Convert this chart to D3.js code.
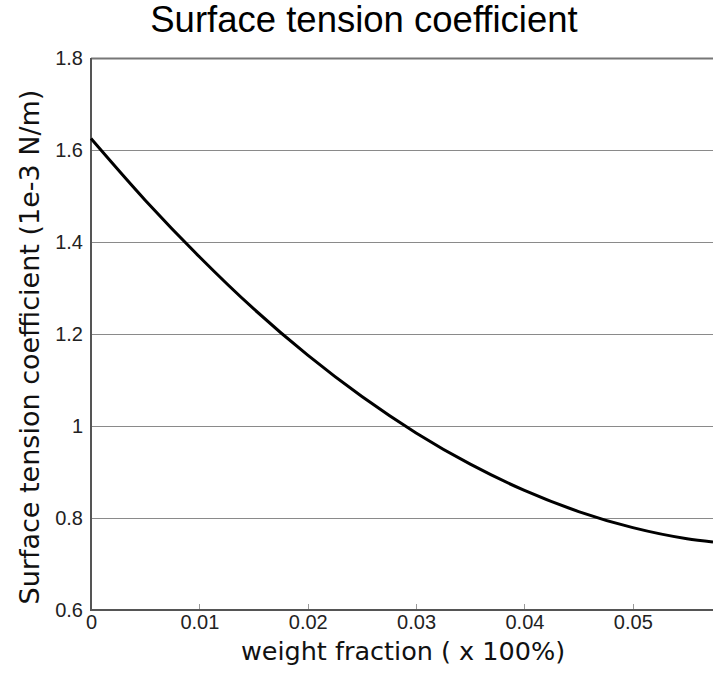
<!DOCTYPE html>
<html>
<head>
<meta charset="utf-8">
<script src="https://cdn.jsdelivr.net/npm/d3@7"></script>
<style>
  body { margin: 0; background: #fff; }
  svg { display: block; }
</style>
</head>
<body>
<svg id="chart" width="713" height="677"></svg>
<script>
// values
let weightFraction = [0, 0.005, 0.01, 0.015, 0.02, 0.025, 0.03, 0.035, 0.04, 0.045, 0.05, 0.055, 0.0574];
let tension = [1.625, 1.491, 1.368, 1.255, 1.154, 1.064, 0.985, 0.917, 0.86, 0.814, 0.779, 0.755, 0.748];
let xTicks = [0, 0.01, 0.02, 0.03, 0.04, 0.05];
let yTicks = [0.6, 0.8, 1, 1.2, 1.4, 1.6, 1.8];

let svg = d3.select("#chart");
let plotLeft = 91, plotRight = 713, plotTop = 58, plotBottom = 610;

let x = d3.scaleLinear().domain([0, 0.0574]).range([plotLeft, plotRight]);
let y = d3.scaleLinear().domain([0.6, 1.8]).range([plotBottom, plotTop]);

let data = weightFraction.map(function(d, i) { return {w: d, t: tension[i]}; });

// grid lines
svg.append("g")
    .selectAll("line")
    .data(yTicks.slice(1))
    .enter()
    .append("line")
    .attr("x1", plotLeft).attr("x2", plotRight)
    .attr("y1", function(d) { return Math.round(y(d)) + 0.5; })
    .attr("y2", function(d) { return Math.round(y(d)) + 0.5; })
    .style("stroke", "#8a8a8a")
    .style("stroke-width", 1.2);

// x axis
let xAxis = d3.axisBottom(x).tickValues(xTicks).tickSize(0).tickPadding(5)
    .tickFormat(function(d) { return d === 0 ? "0" : d3.format(".2f")(d); });
let gx = svg.append("g").attr("transform", "translate(0," + plotBottom + ")").call(xAxis);
gx.select(".domain").remove();
gx.selectAll("text")
    .style("font-family", "Liberation Sans, Arial, sans-serif")
    .style("font-size", "20px")
    .style("fill", "#222");

// small inward ticks
svg.append("g")
    .selectAll("line")
    .data(xTicks.slice(1))
    .enter()
    .append("line")
    .attr("x1", function(d) { return Math.round(x(d)) + 0.5; })
    .attr("x2", function(d) { return Math.round(x(d)) + 0.5; })
    .attr("y1", plotBottom).attr("y2", plotBottom - 6)
    .style("stroke", "#999")
    .style("stroke-width", 1);

// y axis labels
let yAxis = d3.axisLeft(y).tickValues(yTicks).tickSize(0).tickPadding(8)
    .tickFormat(function(d) { return d === 1 ? "1" : d3.format(".1f")(d); });
let gy = svg.append("g").attr("transform", "translate(" + plotLeft + ",0)").call(yAxis);
gy.select(".domain").remove();
gy.selectAll("text")
    .style("font-family", "Liberation Sans, Arial, sans-serif")
    .style("font-size", "20px")
    .style("fill", "#222");

// frame
svg.append("line").attr("x1", plotLeft).attr("x2", plotRight).attr("y1", plotTop + 0.5).attr("y2", plotTop + 0.5)
    .style("stroke", "#777").style("stroke-width", 2);
svg.append("line").attr("x1", plotLeft).attr("x2", plotRight).attr("y1", plotBottom).attr("y2", plotBottom)
    .style("stroke", "#555").style("stroke-width", 2);
svg.append("line").attr("x1", plotLeft).attr("x2", plotLeft).attr("y1", plotTop).attr("y2", plotBottom + 1)
    .style("stroke", "#555").style("stroke-width", 2);

// the curve
let line = d3.line()
    .x(function(d) { return x(d.w); })
    .y(function(d) { return y(d.t); })
    .curve(d3.curveMonotoneX);

svg.append("path")
    .datum(data)
    .attr("d", line)
    .style("fill", "none")
    .style("stroke", "#000")
    .style("stroke-width", 3);

// titles
svg.append("text")
    .attr("x", 364).attr("y", 32)
    .attr("text-anchor", "middle")
    .style("font-family", "Liberation Sans, Arial, sans-serif")
    .style("font-size", "36.5px")
    .text("Surface tension coefficient");

svg.append("text")
    .attr("x", 403).attr("y", 660)
    .attr("text-anchor", "middle")
    .style("font-family", "DejaVu Sans, sans-serif")
    .style("font-size", "25.5px")
    .style("fill", "#111")
    .text("weight fraction ( x 100%)");

svg.append("text")
    .attr("transform", "translate(39,347) rotate(-90)")
    .attr("text-anchor", "middle")
    .style("font-family", "DejaVu Sans, sans-serif")
    .style("font-size", "27px")
    .style("fill", "#111")
    .text("Surface tension coefficient (1e-3 N/m)");
</script>
</body>
</html>
